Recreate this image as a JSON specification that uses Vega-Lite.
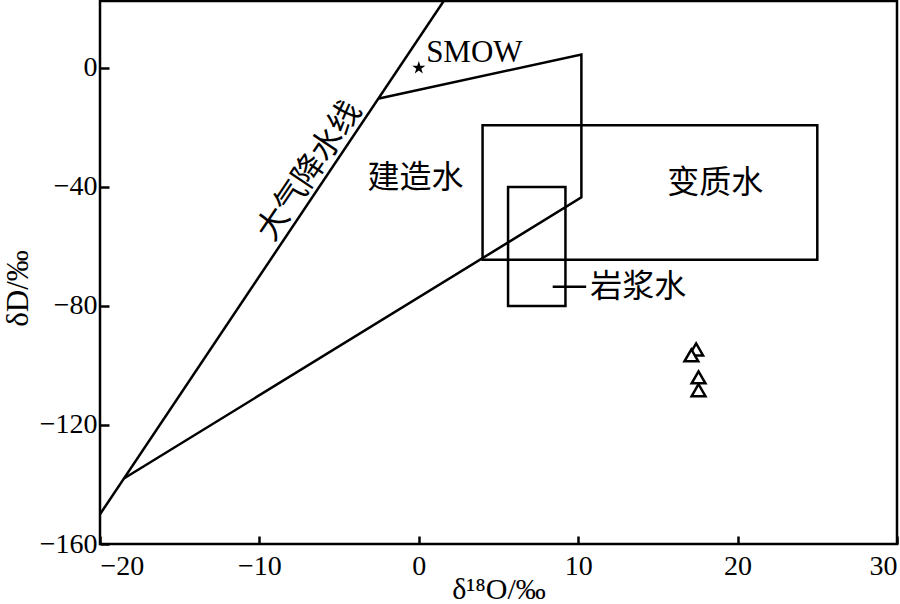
{
  "$schema": "https://vega.github.io/schema/vega-lite/v6.json",
  "width": 797,
  "height": 543,
  "autosize": {"type": "none"},
  "padding": {"left": 100, "top": 1, "right": 3, "bottom": 60},
  "background": "white",
  "config": {
    "view": {"stroke": "black", "strokeWidth": 2.5},
    "font": "Liberation Serif"
  },
  "encoding": {
    "x": {
      "field": "x", "type": "quantitative",
      "scale": {"domain": [-20, 30], "nice": false, "zero": false},
      "axis": {
        "values": [-20, -10, 0, 10, 20, 30], "title": "δ¹⁸O/‰", "domain": false, "grid": false,
        "tickSize": -8, "tickWidth": 2.5, "tickColor": "black", "labelPadding": 16,
        "labelFontSize": 28, "labelFont": "Liberation Serif", "labelColor": "black",
        "titleFont": "Liberation Serif", "titleFontSize": 30, "titleFontWeight": "normal",
        "titleColor": "black", "titleBaseline": "alphabetic", "titleY": 54
      }
    },
    "y": {
      "field": "y", "type": "quantitative",
      "scale": {"domain": [-160, 22.5], "nice": false, "zero": false},
      "axis": {
        "values": [-160, -120, -80, -40, 0], "title": "δD/‰", "domain": false, "grid": false,
        "tickSize": -9, "tickWidth": 2.5, "tickColor": "black", "labelPadding": 12,
        "labelFontSize": 28, "labelFont": "Liberation Serif", "labelColor": "black",
        "titleFont": "Liberation Serif", "titleFontSize": 31, "titleFontWeight": "normal",
        "titleColor": "black", "titleBaseline": "alphabetic", "titleX": -73, "titleY": 287
      }
    }
  },
  "layer": [
    {
      "data": {"values": [
        {"series": "MWL", "order": 1, "x": -20, "y": -150},
        {"series": "MWL", "order": 2, "x": 1.5625, "y": 22.5},
        {"series": "formation", "order": 1, "x": -2.5, "y": -10.3},
        {"series": "formation", "order": 2, "x": 10.2, "y": 4.5},
        {"series": "formation", "order": 3, "x": 10.2, "y": -43.5},
        {"series": "formation", "order": 4, "x": -18.5, "y": -138},
        {"series": "leader", "order": 1, "x": 8.4, "y": -73.5},
        {"series": "leader", "order": 2, "x": 10.5, "y": -73.5}
      ]},
      "mark": {"type": "line", "stroke": "black", "strokeWidth": 2.5, "clip": true, "strokeJoin": "miter"},
      "encoding": {"detail": {"field": "series"}, "order": {"field": "order", "type": "quantitative"}}
    },
    {
      "data": {"values": [
        {"name": "变质水", "x": 4, "x2": 25, "y": -64.5, "y2": -19.3},
        {"name": "岩浆水", "x": 5.6, "x2": 9.2, "y": -80, "y2": -40}
      ]},
      "mark": {"type": "rect", "fillOpacity": 0, "stroke": "black", "strokeWidth": 2.5},
      "encoding": {"x2": {"field": "x2"}, "y2": {"field": "y2"}}
    },
    {
      "data": {"values": [{"name": "SMOW", "x": 0, "y": 0}]},
      "mark": {"type": "point", "shape": "M0,-1L0.2245,-0.309L0.951,-0.309L0.363,0.118L0.588,0.809L0,0.382L-0.588,0.809L-0.363,0.118L-0.951,-0.309L-0.2245,-0.309Z", "filled": true, "color": "black", "size": 190, "opacity": 1}
    },
    {
      "data": {"values": [
        {"x": 17.4, "y": -94.6},
        {"x": 17.1, "y": -96.6},
        {"x": 17.55, "y": -104},
        {"x": 17.55, "y": -108.3}
      ]},
      "mark": {"type": "point", "shape": "triangle-up", "filled": true, "fill": "white", "stroke": "black", "strokeWidth": 2.5, "size": 190, "opacity": 1}
    },
    {
      "data": {"values": [
        {"label": "建造水", "x": -0.2, "y": -37},
        {"label": "变质水", "x": 18.6, "y": -38.6},
        {"label": "岩浆水", "x": 13.76, "y": -73.5}
      ]},
      "mark": {"type": "text", "font": "Noto Sans CJK SC", "fontSize": 32, "color": "black", "align": "center", "baseline": "middle"},
      "encoding": {"text": {"field": "label"}}
    },
    {
      "data": {"values": [{"label": "大气降水线", "x": -6.86, "y": -34.6}]},
      "mark": {"type": "text", "font": "Noto Sans CJK SC", "fontSize": 32, "color": "black", "align": "center", "baseline": "middle", "angle": 304},
      "encoding": {"text": {"field": "label"}}
    },
    {
      "data": {"values": [{"label": "SMOW", "x": 0.46, "y": 5.1}]},
      "mark": {"type": "text", "font": "Liberation Serif", "fontSize": 31, "color": "black", "align": "left", "baseline": "middle"},
      "encoding": {"text": {"field": "label"}}
    }
  ]
}
